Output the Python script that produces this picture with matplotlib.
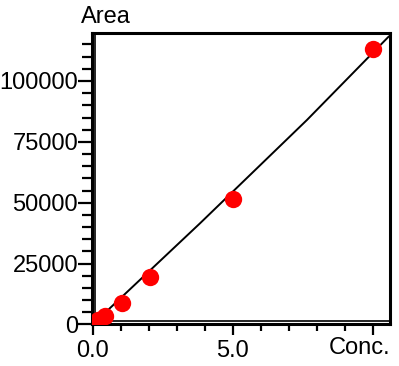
import matplotlib
matplotlib.use('Agg')
import matplotlib.pyplot as plt
from matplotlib.ticker import MultipleLocator, FixedLocator
from matplotlib.transforms import ScaledTranslation

plt.rcParams['font.family'] = ['Liberation Sans', 'DejaVu Sans']

# standards (conc, area)
conc = [0.1, 0.2, 0.45, 1.05, 2.05, 5.0, 10.0]
area = [700, 1800, 3500, 9000, 19300, 51400, 113000]

# calibration curve
curve_x = [0.0, 3.83, 7.64, 10.55]
curve_y = [0, 41560, 83980, 118190]

xticks = [0, 5, 10]
xtick_labels = ['0.0', '5.0', '']
yticks = [0, 25000, 50000, 75000, 100000]
ytick_labels = ['0', '25000', '50000', '75000', '100000']

fig = plt.figure(figsize=(3.99, 3.66), dpi=100)
ax = fig.add_axes([0.2306, 0.1134, 0.7468, 0.7964])

ax.plot(curve_x, curve_y, color='black', linewidth=1.4, zorder=2)
ax.plot(conc, area, 'o', color='#ff0000', markersize=12.5, markeredgewidth=0, zorder=3)

ax.set_xlim(-0.02, 10.6)
ax.set_ylim(0, 119700)

ax.xaxis.set_major_locator(FixedLocator(xticks))
ax.set_xticklabels(xtick_labels)
ax.xaxis.set_minor_locator(MultipleLocator(1))
ax.yaxis.set_major_locator(FixedLocator(yticks))
ax.set_yticklabels(ytick_labels)
ax.yaxis.set_minor_locator(MultipleLocator(5000))

ax.tick_params(axis='both', which='both', direction='out', labelsize=17, width=1.6, colors='black')
ax.tick_params(axis='y', which='major', length=10, pad=0)
ax.tick_params(axis='y', which='minor', length=7)
ax.tick_params(axis='x', which='major', length=8, pad=3)
ax.tick_params(axis='x', which='minor', length=5)

for s in ax.spines.values():
    s.set_linewidth(2.2)
    s.set_color('black')

# inner second line on left and bottom axes
off_r = ax.transAxes + ScaledTranslation(3 / 100, 0, fig.dpi_scale_trans)
off_u = ax.transAxes + ScaledTranslation(0, 3 / 100, fig.dpi_scale_trans)
ax.plot([0, 0], [0, 1], color='black', linewidth=1.2, transform=off_r, clip_on=False)
ax.plot([0, 1], [0, 0], color='black', linewidth=1.2, transform=off_u, clip_on=False)

fig.text(81 / 399, 1 - 17 / 366, 'Area', fontsize=17, ha='left', va='center')
fig.text(390 / 399, 1 - 348 / 366, 'Conc.', fontsize=17, ha='right', va='center')

fig.savefig('out.png', dpi=100)
